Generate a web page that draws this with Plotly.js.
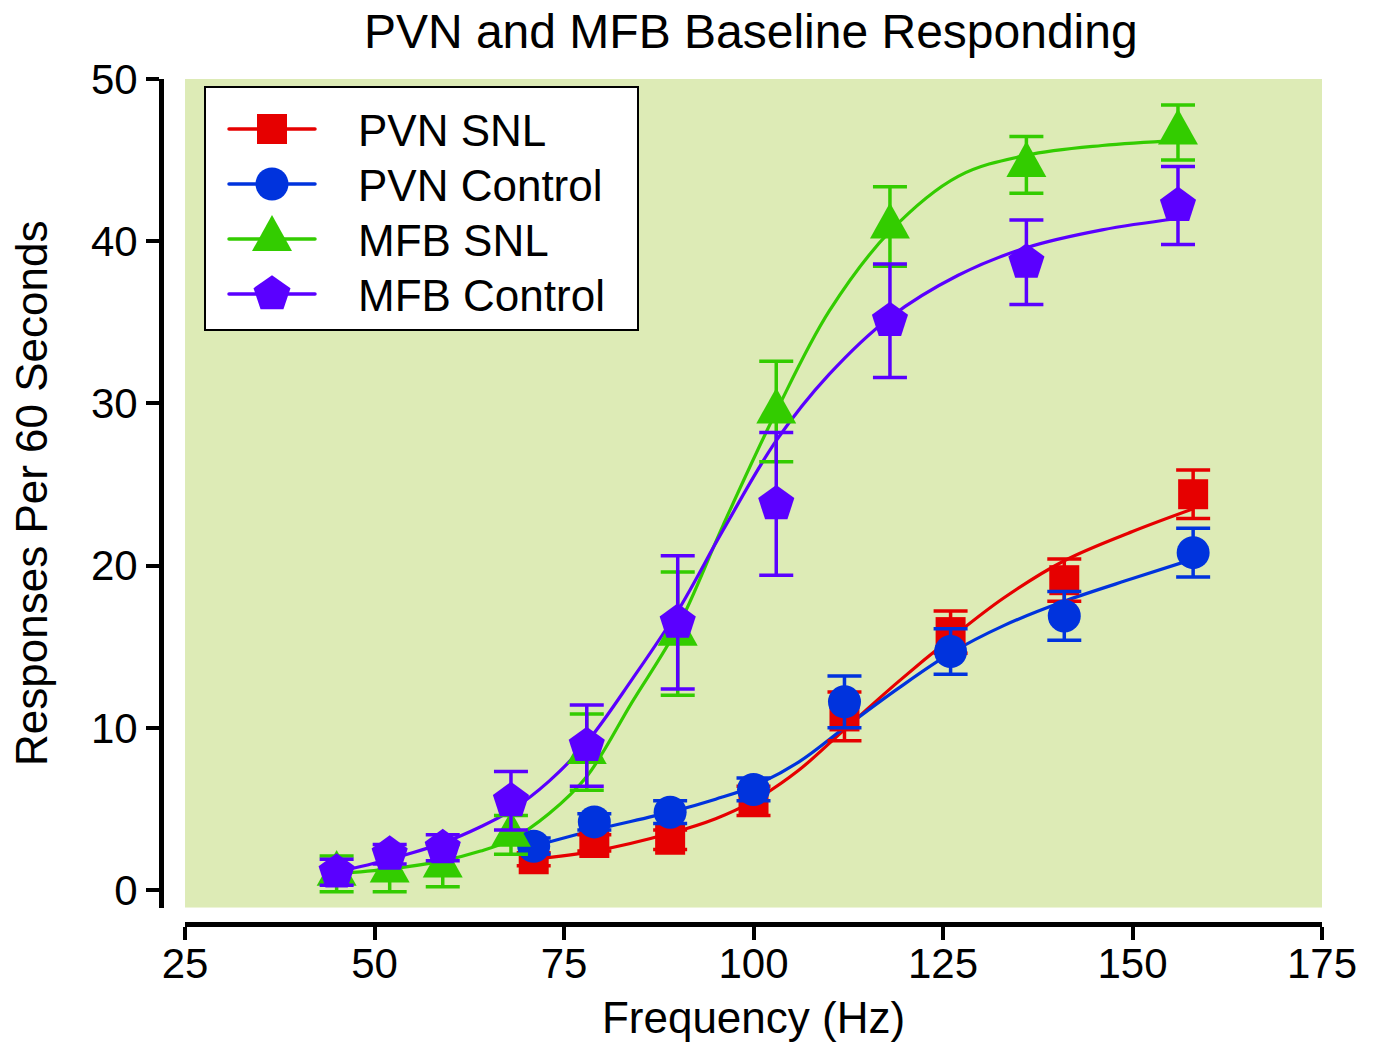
<!DOCTYPE html>
<html>
<head>
<meta charset="utf-8">
<script src="https://cdn.plot.ly/plotly-3.0.1.min.js"></script>
<style>html,body{margin:0;padding:0;background:#fff;}#chart{width:1376px;height:1042px;}</style>
</head>
<body>
<div id="chart"></div>
<script>
// ---- Data ----
const seriesNames = ['PVN SNL', 'PVN Control', 'MFB SNL', 'MFB Control'];
const seriesColors = ['#E60000', '#0033DD', '#33CC00', '#5A00FF'];
const seriesSymbols = ['square', 'circle', 'triangle-up', 'pentagon'];

const pvnFreq = [71, 79, 89, 100, 112, 126, 141, 158];
const mfbFreq = [45, 52, 59, 68, 78, 90, 103, 118, 136, 156];

const pvnSnlMean = [1.9, 2.9, 3.1, 5.5, 10.7, 15.9, 19.1, 24.4];
const pvnSnlSem  = [0.4, 0.5, 0.6, 0.9, 1.5, 1.3, 1.3, 1.5];
const pvnCtlMean = [2.7, 4.2, 4.8, 6.2, 11.6, 14.7, 16.9, 20.8];
const pvnCtlSem  = [0.5, 0.5, 0.7, 0.7, 1.6, 1.4, 1.5, 1.5];
const mfbSnlMean = [1.0, 1.2, 1.5, 3.4, 8.5, 15.8, 29.5, 40.9, 44.7, 46.7];
const mfbSnlSem  = [1.1, 1.3, 1.3, 1.2, 2.35, 3.8, 3.1, 2.45, 1.75, 1.7];
const mfbCtlMean = [1.1, 2.2, 2.6, 5.5, 8.9, 16.5, 23.8, 35.1, 38.7, 42.2];
const mfbCtlSem  = [0.8, 0.6, 0.8, 1.8, 2.5, 4.1, 4.4, 3.5, 2.6, 2.4];

// Fitted curves
const pvnFitX    = [71, 79, 89, 95, 100, 106, 112, 119, 126, 133, 141, 150, 158];
const pvnSnlFitY = [1.9, 2.4, 3.5, 4.4, 5.5, 7.4, 9.9, 12.8, 15.5, 18.0, 20.3, 22.1, 23.5];
const pvnCtlFitY = [2.7, 3.7, 4.8, 5.6, 6.4, 7.9, 10.0, 12.4, 14.6, 16.3, 17.8, 19.2, 20.4];
const mfbFitX    = [45, 52, 59, 64, 68, 73, 78, 84, 90, 96, 103, 110, 118, 127, 136, 146, 156];
const mfbSnlFitY = [1.0, 1.3, 1.8, 2.4, 3.1, 4.7, 7.0, 11.6, 16.2, 22.5, 29.5, 35.7, 40.6, 44.0, 45.3, 45.9, 46.2];
const mfbCtlFitY = [1.1, 1.9, 2.9, 3.9, 4.9, 6.7, 9.1, 13.0, 17.2, 22.2, 27.7, 31.8, 35.3, 37.9, 39.6, 40.7, 41.4];

const xTicks = [25, 50, 75, 100, 125, 150, 175];
const yTicks = [0, 10, 20, 30, 40, 50];

// ---- Traces ----
const means = [pvnSnlMean, pvnCtlMean, mfbSnlMean, mfbCtlMean];
const sems = [pvnSnlSem, pvnCtlSem, mfbSnlSem, mfbCtlSem];
const freqs = [pvnFreq, pvnFreq, mfbFreq, mfbFreq];
const fitXs = [pvnFitX, pvnFitX, mfbFitX, mfbFitX];
const fitYs = [pvnSnlFitY, pvnCtlFitY, mfbSnlFitY, mfbCtlFitY];
const markerSizes = [30, 33, 34.6, 38];

const traces = [];
for (let i = 0; i < 4; i++) {
  traces.push({
    type: 'scatter', mode: 'lines', x: fitXs[i], y: fitYs[i],
    line: {color: seriesColors[i], width: 3.2, shape: 'spline', smoothing: 1},
    showlegend: false, hoverinfo: 'skip'
  });
}
for (let i = 0; i < 4; i++) {
  traces.push({
    type: 'scatter', mode: 'markers', name: seriesNames[i],
    x: freqs[i], y: means[i],
    marker: {symbol: seriesSymbols[i], size: markerSizes[i], color: seriesColors[i], line: {width: 0}},
    error_y: {type: 'data', array: sems[i], visible: true, color: seriesColors[i], thickness: 3.5, width: 17}
  });
}

const FONT = '"Liberation Sans", Arial, Helvetica, sans-serif';
const layout = {
  width: 1376, height: 1042,
  paper_bgcolor: '#ffffff', plot_bgcolor: '#DDEBB6',
  margin: {l: 161, r: 54, t: 79, b: 118, pad: 0},
  font: {family: FONT, color: '#000000', size: 42},
  showlegend: true,
  title: {text: 'PVN and MFB Baseline Responding', font: {size: 48, family: FONT, color: '#000'},
          xref: 'paper', x: 0.508, xanchor: 'center', yref: 'container', y: 1 - 31 / 1042, yanchor: 'middle'},
  xaxis: {
    domain: [0.0207, 1], range: [25, 175], anchor: 'free', position: 0,
    showline: true, linewidth: 5, linecolor: '#000', ticks: 'outside', ticklen: 13, tickwidth: 4, tickcolor: '#000',
    tickmode: 'array', tickvals: xTicks, ticktext: xTicks.map(String), tickfont: {size: 42},
    showgrid: false, zeroline: false,
    title: {text: 'Frequency (Hz)', font: {size: 44}, standoff: 18}
  },
  yaxis: {
    domain: [0.0195, 1], range: [-1.08, 50], anchor: 'free', position: 0,
    showline: true, linewidth: 5, linecolor: '#000', ticks: 'outside', ticklen: 13, tickwidth: 4, tickcolor: '#000',
    tickmode: 'array', tickvals: yTicks, ticktext: yTicks.map(String), tickfont: {size: 42},
    showgrid: false, zeroline: false,
    title: {text: 'Responses Per 60 Seconds', font: {size: 44}, standoff: 28}
  },
  legend: {x: 0.0379, y: 0.9905, xanchor: 'left', yanchor: 'top', bgcolor: '#ffffff', bordercolor: '#000',
           borderwidth: 2, font: {size: 44, family: FONT}, itemwidth: 130, traceorder: 'normal'}
};

const gd = document.getElementById('chart');

function polish() {
  // Stretch triangles vertically to match the reference glyph
  const tr = gd.querySelectorAll('.scatterlayer .trace');
  if (tr[6]) tr[6].querySelectorAll('path.point').forEach(p => {
    const t = p.getAttribute('transform') || '';
    if (!/scale/.test(t)) p.setAttribute('transform', t + ' scale(1,1.38)');
  });
  // Lift x tick labels closer to the axis (baseline at y=978 as in the reference)
  gd.querySelectorAll('.xaxislayer-above .xtick text').forEach(t => {
    const r = t.getBoundingClientRect();
    const baseline = r.bottom - 0.212 * 42;
    const shift = 978 - baseline;
    const old = t.getAttribute('transform') || '';
    t.setAttribute('transform', 'translate(0,' + shift.toFixed(1) + ') ' + old);
  });
  const leg = gd.querySelector('g.legend');
  if (!leg) return;
  const sb = leg.querySelector('.scrollbox');
  if (sb) sb.removeAttribute('clip-path');
  // Legend box
  const bg = leg.querySelector('rect.bg');
  const bgR = bg.getBoundingClientRect();
  const bw = 2;
  const left = 206, top = 88, right = 639, bottom = 331;
  const bx = parseFloat(bg.getAttribute('x') || 0), by = parseFloat(bg.getAttribute('y') || 0);
  const curLeft = bgR.left + bw / 2, curTop = bgR.top + bw / 2;
  bg.setAttribute('x', bx + (left - curLeft));
  bg.setAttribute('y', by + (top - curTop));
  bg.setAttribute('width', right - left);
  bg.setAttribute('height', bottom - top);
  // Legend items
  const symW = [30, 33, 40, 37];
  const symH = [30, 33, 36, 34];
  const items = leg.querySelectorAll('g.traces');
  items.forEach((g, i) => {
    const tf = g.getAttribute('transform') || 'translate(0,0)';
    const m = /translate\(\s*([-\d.e]+)[ ,]+([-\d.e]+)\s*\)/.exec(tf);
    let tx = m ? parseFloat(m[1]) : 0, ty = m ? parseFloat(m[2]) : 0;
    let ctm = g.getScreenCTM();
    const targetY = 129 + 55 * i;
    ty += targetY - ctm.f;
    g.setAttribute('transform', 'translate(' + tx + ',' + ty + ')');
    ctm = g.getScreenCTM();
    const ox = ctm.e;
    const cx = 272 - ox;
    let lp = g.querySelector('.legendlines path');
    if (!lp) {
      lp = document.createElementNS('http://www.w3.org/2000/svg', 'path');
      const sym = g.querySelector('.legendsymbols');
      if (sym && sym.parentNode) sym.parentNode.insertBefore(lp, sym); else g.appendChild(lp);
    }
    lp.setAttribute('d', 'M' + (cx - 43) + ',0h86');
    lp.setAttribute('style', 'fill:none;stroke:' + seriesColors[i] + ';stroke-width:3.5px;stroke-linecap:round;');
    const pt = g.querySelector('.legendpoints path');
    if (pt) {
      pt.setAttribute('transform', 'translate(0,0)');
      const bb = pt.getBBox();
      const kx = symW[i] / bb.width, ky = symH[i] / bb.height;
      pt.setAttribute('transform', 'translate(' + cx + ',0) scale(' + kx + ',' + ky + ')');
    }
    const tx2 = g.querySelector('text.legendtext');
    if (tx2) {
      const r = tx2.getBoundingClientRect();
      const x0 = parseFloat(tx2.getAttribute('x') || 0);
      tx2.setAttribute('x', x0 + (358 - r.left));
    }
  });
}

Plotly.newPlot(gd, traces, layout, {staticPlot: true, displayModeBar: false}).then(polish);
</script>
</body>
</html>
